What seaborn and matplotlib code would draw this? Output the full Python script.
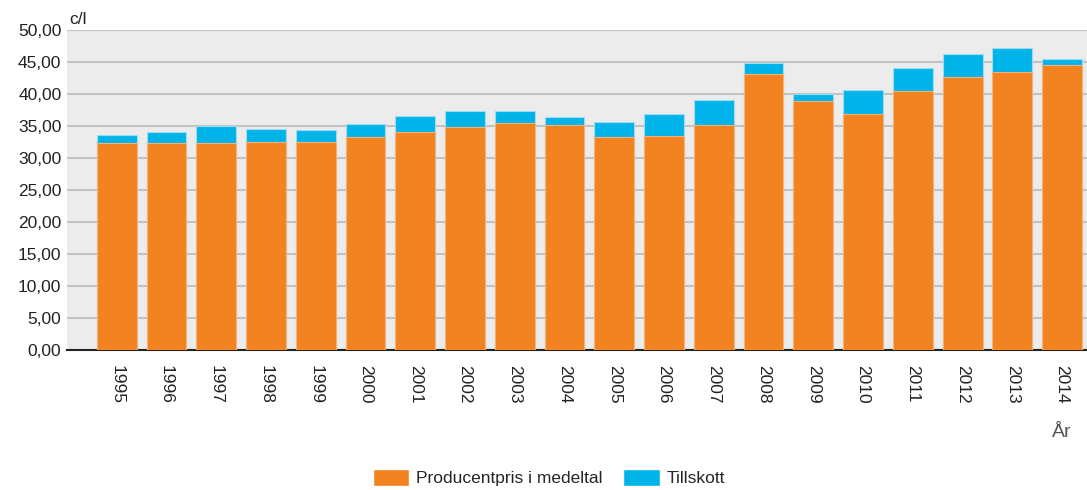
import pandas as pd
import matplotlib.pyplot as plt
import seaborn as sns
from matplotlib.patches import Patch
from matplotlib.ticker import FuncFormatter

# Data (c/l)
years = [str(y) for y in range(1995, 2015)]
producentpris = [32.3, 32.3, 32.3, 32.5, 32.5, 33.3, 34.1, 34.9, 35.5, 35.1,
                 33.3, 33.5, 35.1, 43.2, 38.85, 36.95, 40.5, 42.7, 43.5, 44.6]
tillskott = [1.3, 1.75, 2.65, 2.0, 1.8, 2.0, 2.4, 2.5, 1.9, 1.25,
             2.25, 3.45, 3.9, 1.6, 1.2, 3.75, 3.5, 3.5, 3.75, 0.9]

ORANGE = '#f38321'
BLUE = '#00b4ea'

df = pd.DataFrame({'År': years, 'Producentpris': producentpris, 'Tillskott': tillskott})
df['Total'] = df['Producentpris'] + df['Tillskott']

sns.set_style('white')
plt.rcParams['font.family'] = ['Liberation Sans', 'DejaVu Sans']

fig = plt.figure(figsize=(10.87, 4.9), dpi=100)
ax = fig.add_axes([0.0616, 0.2857, 0.9384, 0.6531])
ax.set_facecolor('#ececec')

# stacked bars: total first (blue), producer price on top (orange)
sns.barplot(data=df, x='År', y='Total', color=BLUE, width=0.8, saturation=1,
            edgecolor='#9fdcf2', linewidth=0.8, ax=ax, zorder=3)
sns.barplot(data=df, x='År', y='Producentpris', color=ORANGE, width=0.8, saturation=1,
            edgecolor='#f7b27a', linewidth=0.8, ax=ax, zorder=3)

ax.set_ylim(0, 50)
ax.set_xlim(-1.0, 19.5)
ax.set_yticks(range(0, 51, 5))
ax.yaxis.set_major_formatter(FuncFormatter(lambda v, p: f'{v:.2f}'.replace('.', ',')))
ax.grid(axis='y', color='#c3c3c3', linewidth=1.5, zorder=0)
ax.set_axisbelow(True)

for s in ['top', 'right', 'left']:
    ax.spines[s].set_visible(False)
ax.spines['bottom'].set_color('#222222')
ax.spines['bottom'].set_linewidth(1.5)

ax.tick_params(axis='y', length=0, labelsize=12.5, colors='#222222', pad=4)
ax.tick_params(axis='x', length=0, labelsize=12.5, colors='#222222', pad=11)
plt.setp(ax.get_xticklabels(), rotation=-90)

ax.set_xlabel('')
ax.set_ylabel('')
fig.text(0.064, 0.945, 'c/l', fontsize=12.5, color='#222222', ha='left', va='bottom')
fig.text(0.977, 0.118, 'År', fontsize=14, color='#555555', ha='center', va='center')

handles = [Patch(facecolor=ORANGE, label='Producentpris i medeltal'),
           Patch(facecolor=BLUE, label='Tillskott')]
fig.legend(handles=handles, loc='center', bbox_to_anchor=(0.505, 0.025), ncol=2,
           frameon=False, fontsize=12.5, handlelength=2.1, handleheight=1.1,
           columnspacing=1.2, handletextpad=0.4)

fig.savefig('out.png', dpi=100)
